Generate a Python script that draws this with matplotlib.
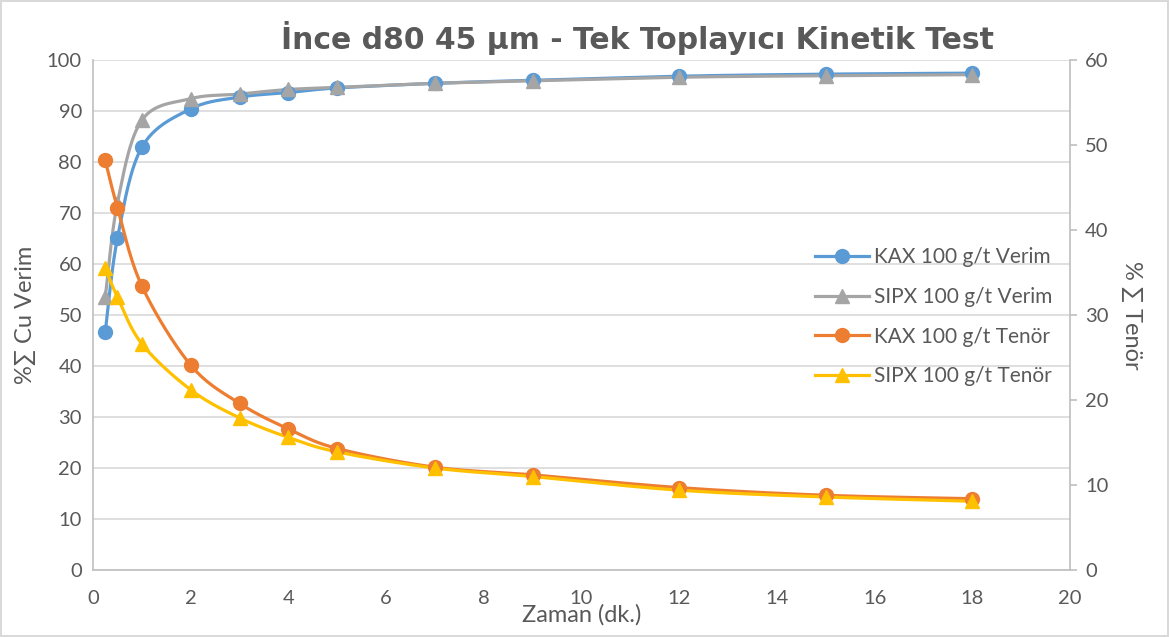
import numpy as np
import matplotlib
matplotlib.use('Agg')
import matplotlib.pyplot as plt
from matplotlib.lines import Line2D

# zaman (dk.)
zaman = [0.25, 0.5, 1, 2, 3, 4, 5, 7, 9, 12, 15, 18]

# verim (%), sol eksen
kax_verim = [46.7, 65.1, 82.9, 90.4, 92.7, 93.6, 94.5, 95.4, 96.0, 96.8, 97.2, 97.4]
sipx_verim = [53.5, 72.0, 88.2, 92.4, 93.3, 94.2, 94.6, 95.4, 95.9, 96.6, 96.9, 97.1]

# tenör (%), sag eksen
kax_tenor = [48.2, 42.6, 33.4, 24.1, 19.6, 16.6, 14.3, 12.1, 11.2, 9.7, 8.8, 8.4]
sipx_tenor = [35.5, 32.1, 26.6, 21.2, 17.9, 15.6, 13.9, 12.0, 11.0, 9.4, 8.6, 8.1]

labels = ['KAX 100 g/t Verim', 'SIPX 100 g/t Verim',
          'KAX 100 g/t Tenör', 'SIPX 100 g/t Tenör']
colors = ['#5B9BD5', '#A5A5A5', '#ED7D31', '#FFC000']
markers = ['o', '^', 'o', '^']

TXT = '#595959'
FONT = ['Lato', 'DejaVu Sans']
plt.rcParams['font.family'] = FONT


def smooth(x, y, n=30):
    """excel tarzi yumusak cizgi (bezier, 1/6 teget)"""
    x = np.asarray(x, float)
    y = np.asarray(y, float)
    px = np.concatenate([[x[0]], x, [x[-1]]])
    py = np.concatenate([[y[0]], y, [y[-1]]])
    xs, ys = [], []
    t = np.linspace(0, 1, n)
    for i in range(1, len(px) - 2):
        p0 = np.array([px[i], py[i]])
        p3 = np.array([px[i + 1], py[i + 1]])
        c1 = p0 + (np.array([px[i + 1], py[i + 1]]) - np.array([px[i - 1], py[i - 1]])) / 6
        c2 = p3 - (np.array([px[i + 2], py[i + 2]]) - np.array([px[i], py[i]])) / 6
        b = ((1 - t) ** 3)[:, None] * p0 + (3 * (1 - t) ** 2 * t)[:, None] * c1 \
            + (3 * (1 - t) * t ** 2)[:, None] * c2 + (t ** 3)[:, None] * p3
        xs.append(b[:, 0])
        ys.append(b[:, 1])
    return np.concatenate(xs), np.concatenate(ys)


fig = plt.figure(figsize=(11.69, 6.37), dpi=100)
fig.patch.set_edgecolor('#D9D9D9')
fig.patch.set_linewidth(1.5)
ax = fig.add_axes([0.0796, 0.105, 0.8357, 0.801])
ax2 = ax.twinx()

lw = 2.3
ms = 10
series = [(ax, kax_verim), (ax, sipx_verim), (ax2, kax_tenor), (ax2, sipx_tenor)]
for (a, vals), c, m in zip(series, colors, markers):
    sx, sy = smooth(zaman, vals)
    a.plot(sx, sy, color=c, lw=lw, solid_capstyle='round', zorder=3)
    a.plot(zaman, vals, ls='none', marker=m, ms=ms, color=c, mec=c, zorder=4)

ax.set_xlim(0, 20)
ax.set_ylim(0, 100)
ax2.set_ylim(0, 60)
ax.set_xticks(range(0, 21, 2))
ax.set_yticks(range(0, 101, 10))
ax2.set_yticks(range(0, 61, 10))

ax.grid(axis='y', color='#D9D9D9', lw=1.2)
ax.set_axisbelow(True)
for a in (ax, ax2):
    for s in a.spines.values():
        s.set_visible(False)
ax.spines['left'].set_visible(True)
ax.spines['bottom'].set_visible(True)
ax2.spines['right'].set_visible(True)
for s in (ax.spines['left'], ax.spines['bottom'], ax2.spines['right']):
    s.set_color('#BFBFBF')
    s.set_linewidth(1.2)

ax.tick_params(axis='both', length=0, labelsize=14.5, labelcolor=TXT, pad=8)
ax.tick_params(axis='x', pad=14)
ax2.tick_params(axis='y', length=5, color='#BFBFBF', width=1.2,
                labelsize=14.5, labelcolor=TXT, pad=6)

ax.set_xlabel('Zaman (dk.)', fontsize=17, color=TXT, labelpad=-2)
ax.set_ylabel('%∑ Cu Verim', fontsize=17, color=TXT, labelpad=8)
ax2.set_ylabel('% ∑ Tenör', fontsize=17, color=TXT, rotation=270, labelpad=24)

fig.text(0.5455, 0.941, 'İnce d80 45 µm - Tek Toplayıcı Kinetik Test',
         ha='center', va='center', fontsize=21.5, fontweight='bold', color=TXT,
         family='DejaVu Sans')

handles = [Line2D([0], [0], color=c, lw=lw, marker=m, ms=ms, mec=c)
           for c, m in zip(colors, markers)]
leg = ax2.legend(handles, labels, loc='upper left', bbox_to_anchor=(0.72, 0.67),
                 frameon=False, fontsize=15, labelcolor=TXT, handlelength=2.6,
                 handletextpad=0.2, labelspacing=0.95)

fig.savefig('out.png', dpi=100, edgecolor=fig.patch.get_edgecolor())
